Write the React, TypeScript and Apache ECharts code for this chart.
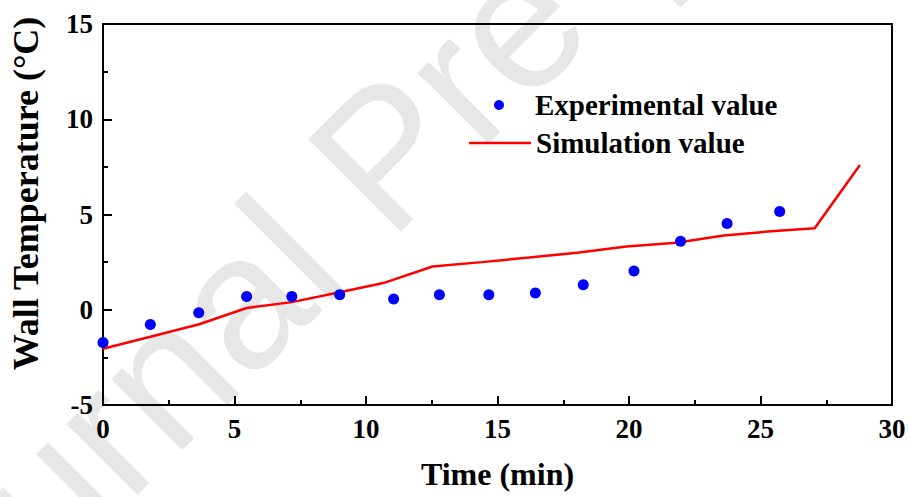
import React, { useEffect, useRef } from "react";
import * as echarts from "echarts";

const expTime = [0, 1.8, 3.64, 5.46, 7.18, 9.0, 11.05, 12.79, 14.67, 16.44, 18.26, 20.19, 21.96, 23.73, 25.73];
const expTemp = [-1.72, -0.77, -0.16, 0.69, 0.69, 0.79, 0.56, 0.79, 0.79, 0.88, 1.31, 2.03, 3.6, 4.53, 5.16];

const simTime = [0, 1.8, 3.66, 5.46, 7.18, 9.0, 10.66, 12.53, 14.4, 16.2, 18.1, 19.9, 21.8, 23.6, 25.4, 27.06, 28.78];
const simTemp = [-2.05, -1.42, -0.76, 0.09, 0.4, 0.92, 1.4, 2.27, 2.5, 2.74, 3.0, 3.32, 3.52, 3.9, 4.12, 4.28, 7.6];

const xTicks = { min: 0, max: 30, interval: 5 };
const yTicks = { min: -5, max: 15, interval: 5 };

const seriesNames = ["Experimental value", "Simulation value"];
const axisTitles = { x: "Time (min)", y: "Wall Temperature (\u00B0C)" };
const watermark = "Journal Pre-proof";

const SERIF = "'Liberation Serif', 'Times New Roman', serif";

export default function App() {
  const ref = useRef<HTMLDivElement>(null);
  useEffect(() => {
    if (!ref.current) return;
    const chart = echarts.init(ref.current, undefined, { renderer: "svg" });
    const expData = expTime.map((t, i) => [t, expTemp[i]]);
    const simData = simTime.map((t, i) => [t, simTemp[i]]);
    const axisCommon = {
      axisLine: { show: true, onZero: false, lineStyle: { color: "#000", width: 2 } },
      axisTick: { show: true, inside: true, length: 9, lineStyle: { color: "#000", width: 2 } },
      minorTick: { show: true, splitNumber: 2, length: 5, lineStyle: { color: "#000", width: 2 } },
      splitLine: { show: false },
      axisLabel: { color: "#000", fontFamily: SERIF, fontWeight: "bold", fontSize: 27, margin: 10 },
    };
    const legendText = { color: "#000", fontFamily: SERIF, fontWeight: "bold", fontSize: 29, lineHeight: 30 };
    chart.setOption({
      animation: false,
      backgroundColor: "#fff",
      graphic: [
        {
          type: "text",
          x: 384,
          y: 155,
          rotation: Math.PI / 4,
          z: -10,
          silent: true,
          style: {
            text: watermark,
            fill: "#e7e7e7",
            font: "190px 'Liberation Sans', Arial, sans-serif",
            align: "center",
            verticalAlign: "middle",
          },
        },
      ],
      grid: {
        left: 102,
        top: 24,
        right: 17,
        bottom: 92,
        show: true,
        borderColor: "#000",
        borderWidth: 2,
        backgroundColor: "transparent",
      },
      legend: [
        {
          data: [seriesNames[0]],
          left: 494,
          top: 90,
          padding: 0,
          icon: "circle",
          itemWidth: 62,
          itemHeight: 10,
          textStyle: legendText,
        },
        {
          data: [seriesNames[1]],
          left: 469,
          top: 128,
          padding: 0,
          icon: "rect",
          itemWidth: 62,
          itemHeight: 2.5,
          textStyle: legendText,
        },
      ],
      xAxis: {
        type: "value",
        ...xTicks,
        ...axisCommon,
        name: axisTitles.x,
        nameLocation: "middle",
        nameGap: 53,
        nameTextStyle: { color: "#000", fontFamily: SERIF, fontWeight: "bold", fontSize: 32 },
      },
      yAxis: {
        type: "value",
        ...yTicks,
        ...axisCommon,
        name: axisTitles.y,
        nameLocation: "middle",
        nameGap: 59,
        nameTextStyle: {
          color: "#000",
          fontFamily: SERIF,
          fontWeight: "bold",
          fontSize: 36,
          padding: [0, 0, 0, 42],
        },
      },
      series: [
        {
          name: seriesNames[0],
          type: "scatter",
          data: expData,
          symbol: "circle",
          symbolSize: 11,
          itemStyle: { color: "#0000ff", opacity: 1 },
          z: 3,
        },
        {
          name: seriesNames[1],
          type: "line",
          data: simData,
          symbol: "none",
          lineStyle: { color: "#ff0000", width: 2.5 },
          itemStyle: { color: "#ff0000" },
          z: 2,
        },
      ],
    });
    return () => chart.dispose();
  }, []);
  return <div ref={ref} style={{ position: "absolute", left: 0, top: 0, width: 909, height: 497 }} />;
}
